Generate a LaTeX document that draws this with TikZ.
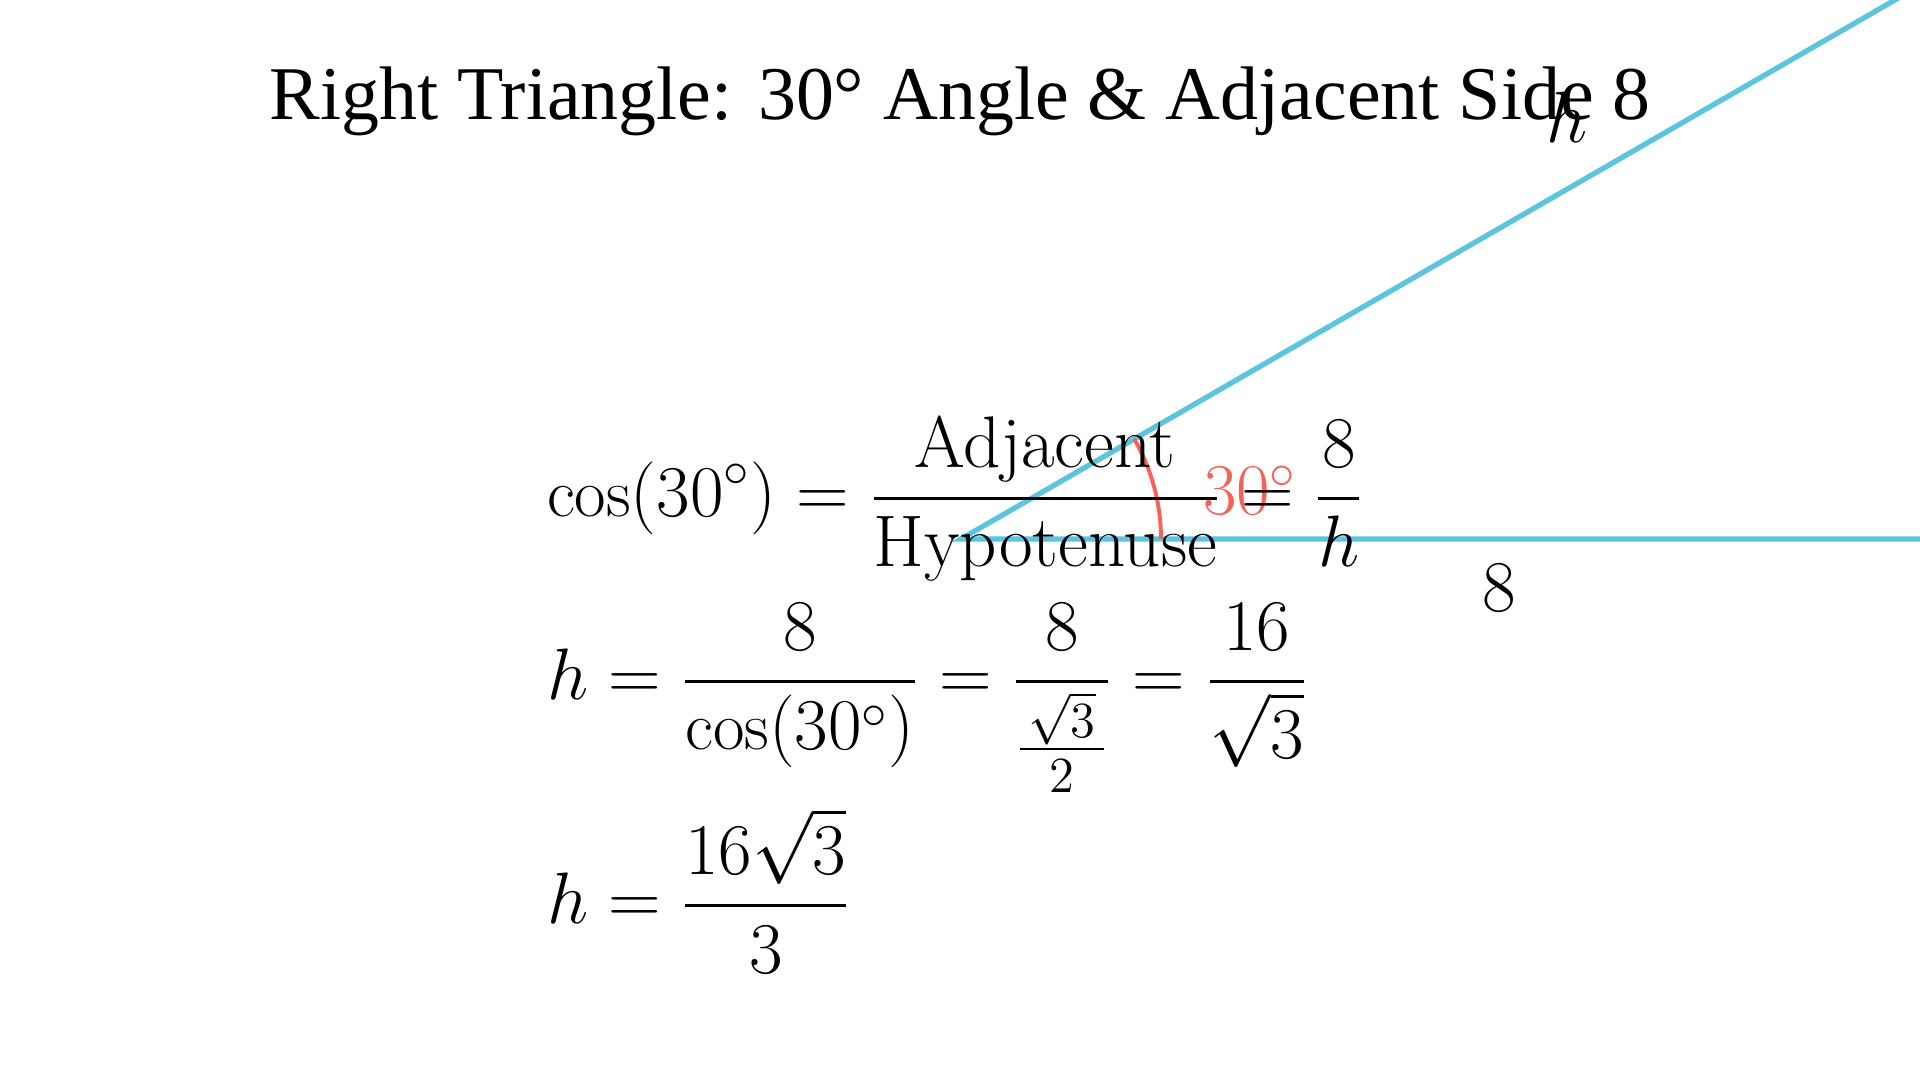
\documentclass[tikz,border=0pt]{standalone}
\usepackage{amsmath}
\usepackage{fontspec}
\newfontfamily\titlefont{Liberation Serif}
\usetikzlibrary{positioning}
\definecolor{sideblue}{RGB}{91,196,222}
\definecolor{anglered}{RGB}{250,97,85}
\newcommand{\word}[1]{\text{\fontsize{20.8}{25}\selectfont #1}}
\tikzset{
  side/.style = {sideblue, line width=1.5pt},
  anglemark/.style = {anglered, line width=1.1pt},
  lbl/.style = {inner sep=0pt, outer sep=0pt,
      font=\fontsize{19.5}{23}\selectfont},
  eqn/.style = {lbl, anchor=base west},
  heading/.style = {inner sep=0pt, anchor=base,
      font=\titlefont\fontsize{21.6}{26}\selectfont},
}

\begin{document}
\begin{tikzpicture}
  \useasboundingbox (0,0) rectangle (19.2,10.8);
  \clip (0,0) rectangle (19.2,10.8);

  % triangle, adjacent side 8 along the base
  \coordinate (A) at (9.61,5.41);
  \coordinate (B) at (20.37,5.41);
  \coordinate (C) at (20.37,11.62);
  \draw[side] (A) -- (B) -- (C) -- cycle;

  \draw[anglemark] (A) ++(2,0) arc[start angle=0, end angle=30, radius=2];
  \node[lbl, anchor=base, text=anglered] (ang) at (12.50,5.65) {$30^\circ$};
  \node[lbl, anchor=base] (adj) at (14.99,4.68) {$8$};
  \node[lbl, anchor=base] (hyp) at (15.67,9.37) {$h$};

  \node[heading] (title) at (9.60,9.60)
    {Right Triangle: 30° Angle \& Adjacent Side 8};

  \node[eqn] (eq1) at (5.47,5.63)
    {$\displaystyle \cos(30^\circ) = \frac{\word{Adjacent}}{\word{Hypotenuse}} = \frac{8}{h}$};
  \node[eqn] (eq2) at (5.47,3.80)
    {$\displaystyle h = \frac{8}{\cos(30^\circ)} = \frac{8}{\frac{\,\sqrt{3}\,}{2}} = \frac{16}{\sqrt{3}}$};
  \node[eqn] (eq3) at (5.47,1.56)
    {$\displaystyle h = \frac{16\sqrt{3}}{3}$};
\end{tikzpicture}
\end{document}
